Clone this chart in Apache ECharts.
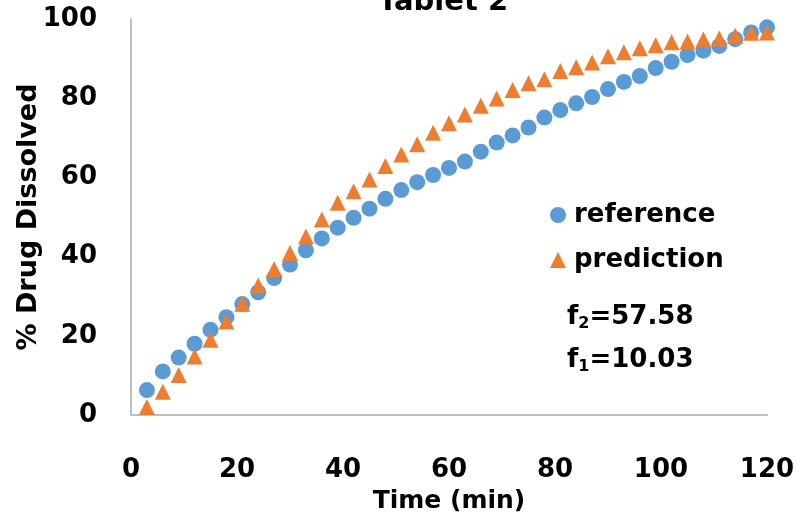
<!DOCTYPE html>
<html>
<head>
<meta charset="utf-8">
<script src="https://cdn.jsdelivr.net/npm/echarts@6/dist/echarts.min.js"></script>
<style>
html, body { margin: 0; padding: 0; background: #fff; }
#chart { width: 796px; height: 518px; }
</style>
</head>
<body>
<div id="chart"></div>
<script>
// sampling times (min)
var times = [3,6,9,12,15,18,21,24,27,30,33,36,39,42,45,48,51,54,57,60,
             63,66,69,72,75,78,81,84,87,90,93,96,99,102,105,108,111,114,117,120];
// % dissolved
var referenceVals = [6.3,11.0,14.5,18.0,21.5,24.7,28.0,31.0,34.6,38.0,41.6,44.6,47.3,49.8,52.1,54.6,56.8,58.8,60.6,62.4,
                     64.0,66.5,68.8,70.6,72.6,75.1,77.0,78.7,80.3,82.3,84.1,85.6,87.6,89.2,90.9,92.0,93.2,94.9,96.6,97.9];
var predictionVals = [2.0,5.9,10.1,14.8,19.0,23.6,28.1,32.7,36.9,40.9,45.1,49.4,53.6,56.5,59.5,62.9,65.8,68.4,71.3,73.7,
                      75.9,78.1,79.9,82.1,83.8,84.8,86.9,87.8,89.0,90.6,91.6,92.6,93.4,94.1,94.3,94.8,95.1,95.8,96.5,96.6];
var xTicks = [0,20,40,60,80,100,120];
var yTicks = [0,20,40,60,80,100];

function pairs(xs, ys){
    var out = [];
    for (var i = 0; i < xs.length; i++) out.push([xs[i], ys[i]]);
    return out;
}

var fontFam = '"DejaVu Sans", sans-serif';
var chart = echarts.init(document.getElementById('chart'));
var option = {
    animation: false,
    textStyle: { fontFamily: fontFam },
    title: {
        text: 'Tablet 2',
        left: 438, top: -17, textAlign: 'center',
        textStyle: { fontSize: 29, fontWeight: 'bold', color: '#000', fontFamily: fontFam }
    },
    grid: { left: 131, right: 29, top: 19, bottom: 103, outerBoundsMode: 'none' },
    legend: {
        orient: 'vertical',
        left: 545, top: 197,
        itemGap: 19,
        itemWidth: 16, itemHeight: 16,
        textStyle: { fontSize: 26, fontWeight: 'bold', color: '#000', fontFamily: fontFam, padding: [0, 0, 0, 3] },
        data: [
            { name: 'reference', icon: 'circle' },
            { name: 'prediction', icon: 'triangle' }
        ]
    },
    xAxis: {
        type: 'value', min: xTicks[0], max: xTicks[xTicks.length - 1], interval: 20,
        name: 'Time (min)', nameLocation: 'middle', nameGap: 74,
        nameTextStyle: { fontSize: 25, fontWeight: 'bold', color: '#000', fontFamily: fontFam },
        axisLine: { lineStyle: { color: '#bfbfbf', width: 2 } },
        axisTick: { show: false },
        splitLine: { show: false },
        axisLabel: { fontSize: 26, fontWeight: 'bold', color: '#000', margin: 42, fontFamily: fontFam }
    },
    yAxis: {
        type: 'value', min: yTicks[0], max: yTicks[yTicks.length - 1], interval: 20,
        name: '% Drug Dissolved', nameLocation: 'middle', nameGap: 89, nameMoveOverlap: false,
        nameTextStyle: { fontSize: 27, fontWeight: 'bold', color: '#000', fontFamily: fontFam },
        axisLine: { show: true, lineStyle: { color: '#bfbfbf', width: 2 } },
        axisTick: { show: false },
        splitLine: { show: false },
        axisLabel: { fontSize: 26, fontWeight: 'bold', color: '#000', margin: 34, fontFamily: fontFam }
    },
    graphic: [{
        type: 'text', left: 567, top: 302,
        style: {
            text: '{m|f}{s|2}{m|=57.58}\n{m|f}{s|1}{m|=10.03}',
            rich: {
                m: { fontSize: 26, fontWeight: 'bold', fill: '#000', fontFamily: fontFam, lineHeight: 43 },
                s: { fontSize: 16, fontWeight: 'bold', fill: '#000', fontFamily: fontFam, lineHeight: 43, padding: [14, 0, 0, 0] }
            }
        }
    }],
    series: [
        {
            name: 'reference', type: 'scatter', symbol: 'circle', symbolSize: 16,
            itemStyle: { color: '#5B9BD5', opacity: 1 },
            data: pairs(times, referenceVals)
        },
        {
            name: 'prediction', type: 'scatter', symbol: 'triangle', symbolSize: 16,
            itemStyle: { color: '#ED7D31', opacity: 1 },
            data: pairs(times, predictionVals)
        }
    ]
};
chart.setOption(option);
window.onresize = chart.resize;
</script>
</body>
</html>
